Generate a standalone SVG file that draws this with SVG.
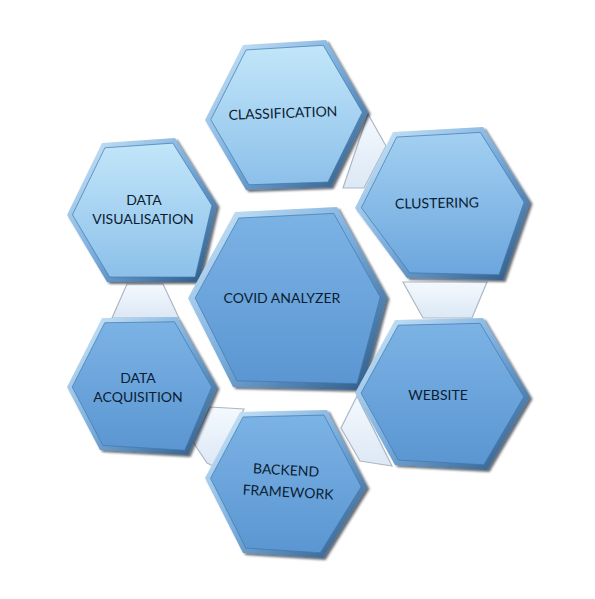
<svg xmlns="http://www.w3.org/2000/svg" width="595" height="599" viewBox="0 0 595 599">
<style>
.bezel{fill:url(#gBezel);filter:url(#sh)}
.light{fill:url(#gLight)}
.mid{fill:url(#gMid)}
.dark{fill:url(#gDark)}
.inner{stroke:#3f77ad;stroke-width:1;stroke-opacity:.75}
.lbl{font-family:Lato,"Open Sans","Liberation Sans",sans-serif;font-size:14px;fill:#0b1d33;text-anchor:middle}
.bridge{fill:url(#gBridge);stroke:#aeb8c3;stroke-width:1.2}
</style>
<defs>
<linearGradient id="gBezel" x1="0" y1="0" x2="1" y2="1">
<stop offset="0" stop-color="#d4ecfb"/>
<stop offset="0.5" stop-color="#78acdc"/>
<stop offset="1" stop-color="#2a5580"/>
</linearGradient>
<linearGradient id="gLight" x1="0" y1="0" x2="0" y2="1">
<stop offset="0" stop-color="#c2e6f9"/>
<stop offset="1" stop-color="#8cc0ea"/>
</linearGradient>
<linearGradient id="gMid" x1="0" y1="0" x2="0" y2="1">
<stop offset="0" stop-color="#a3d0f2"/>
<stop offset="1" stop-color="#6ca6dd"/>
</linearGradient>
<linearGradient id="gDark" x1="0" y1="0" x2="0" y2="1">
<stop offset="0" stop-color="#7cb3e5"/>
<stop offset="1" stop-color="#5b96d2"/>
</linearGradient>
<linearGradient id="gBridge" x1="0" y1="0" x2="0" y2="1">
<stop offset="0" stop-color="#f4f9fe"/>
<stop offset="1" stop-color="#dce8f5"/>
</linearGradient>
<filter id="sh" x="-10%" y="-10%" width="125%" height="125%">
<feDropShadow dx="2.5" dy="2" stdDeviation="1.3" flood-color="#0a1a2a" flood-opacity="0.65"/>
</filter>
</defs>

<g id="connectors">
<polygon class="bridge" points="368,114 386,146 364,188 343,188"/>
<polygon class="bridge" points="127,284 163,284 179,318 112,318"/>
<polygon class="bridge" points="403,282 487,282 472,318 423,318"/>
<polygon class="bridge" points="210,407 244,409 217,468 207,463 193,442"/>
<polygon class="bridge" points="357,396 341,428 360,461 392,466"/>
</g>

<g id="classification">
<polygon class="bezel" points="243,45 326,40 368,112 331,187 246,190 205,120"/>
<polygon class="light inner" points="243,45 326,40 368,112 331,187 246,190 205,120" transform="matrix(.93 0 0 .93 20.1 8.1)"/>
<text class="lbl" x="283" y="118" transform="rotate(-2 283 114)">CLASSIFICATION</text>
</g>

<g id="clustering">
<polygon class="bezel" points="393,132 483,127 530,202 503,280 407,278 355,208"/>
<polygon class="mid inner" points="393,132 483,127 530,202 503,280 407,278 355,208" transform="matrix(.93 0 0 .93 31.2 14.3)"/>
<text class="lbl" x="437" y="208" transform="rotate(-1 437 203)">CLUSTERING</text>
</g>

<g id="data-visualisation">
<polygon class="bezel" points="102,143 175,138 217,205 199,282 107,282 67,215"/>
<polygon class="light inner" points="102,143 175,138 217,205 199,282 107,282 67,215" transform="matrix(.93 0 0 .93 10.1 14.8)"/>
<text class="lbl" x="144" y="205">DATA</text>
<text class="lbl" x="143" y="224">VISUALISATION</text>
</g>

<g id="covid-analyzer">
<polygon class="bezel" points="235,212 337,207 387,297 362,390 233,387 188,298"/>
<polygon class="dark inner" points="235,212 337,207 387,297 362,390 233,387 188,298" transform="matrix(.93 0 0 .93 20.3 20.9)"/>
<text class="lbl" x="282" y="303">COVID ANALYZER</text>
</g>

<g id="data-acquisition">
<polygon class="bezel" points="102,318 177,317 217,387 188,455 100,450 67,387"/>
<polygon class="dark inner" points="102,318 177,317 217,387 188,455 100,450 67,387" transform="matrix(.93 0 0 .93 9.9 27.0)"/>
<text class="lbl" x="138" y="383">DATA</text>
<text class="lbl" x="138" y="402">ACQUISITION</text>
</g>

<g id="website">
<polygon class="bezel" points="395,320 483,318 530,397 487,470 395,465 355,393"/>
<polygon class="dark inner" points="395,320 483,318 530,397 487,470 395,465 355,393" transform="matrix(.93 0 0 .93 30.9 27.6)"/>
<text class="lbl" x="438" y="400">WEBSITE</text>
</g>

<g id="backend-framework">
<polygon class="bezel" points="240,412 327,410 367,487 323,558 243,553 205,478"/>
<polygon class="dark inner" points="240,412 327,410 367,487 323,558 243,553 205,478" transform="matrix(.93 0 0 .93 19.9 33.8)"/>
<text class="lbl" x="286" y="475" transform="rotate(3 286 471)">BACKEND</text>
<text class="lbl" x="288" y="497" transform="rotate(3 288 493)">FRAMEWORK</text>
</g>
</svg>
